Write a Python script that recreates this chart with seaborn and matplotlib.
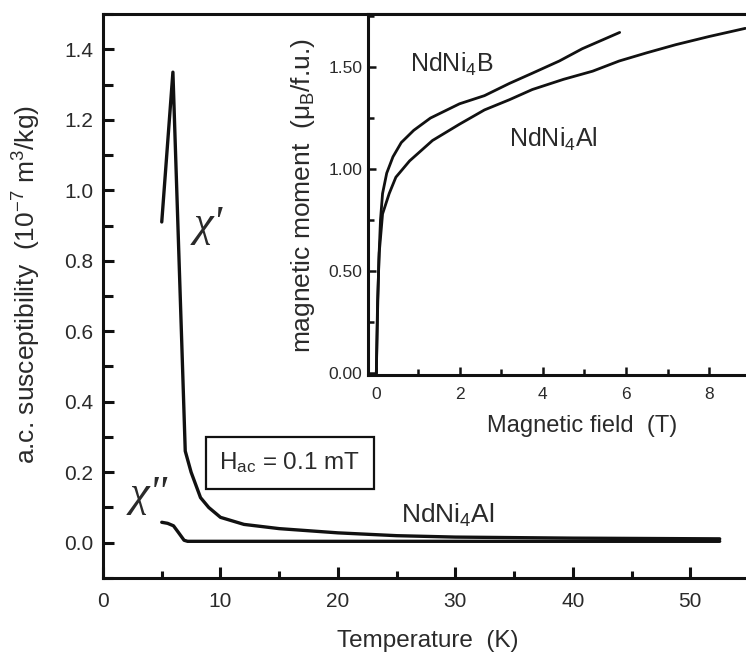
import matplotlib
matplotlib.use("Agg")
import matplotlib.pyplot as plt
from matplotlib.ticker import MultipleLocator, FormatStrFormatter
import pandas as pd
import seaborn as sns

# a.c. susceptibility of NdNi4Al, 10^-7 m^3/kg
temp_real = [5.0, 5.95, 6.7, 7.0, 7.5, 8.3, 9.0, 10.0, 12.0, 15.0, 20.0, 25.0, 30.0, 40.0, 52.5]
chi_real = [0.91, 1.335, 0.57, 0.26, 0.20, 0.128, 0.10, 0.072, 0.052, 0.040, 0.028, 0.020, 0.016, 0.013, 0.011]
temp_imag = [5.0, 5.5, 6.0, 6.4, 6.9, 7.2, 20.0, 52.5]
chi_imag = [0.058, 0.055, 0.048, 0.030, 0.007, 0.004, 0.004, 0.004]

# magnetisation curves (inset), mu_B per formula unit
field_b = [0.0, 0.03, 0.06, 0.10, 0.15, 0.25, 0.40, 0.60, 0.90, 1.30, 2.00, 2.60, 3.20, 3.75, 4.40, 4.95, 5.40, 5.85]
moment_b = [0.0, 0.30, 0.55, 0.75, 0.88, 0.98, 1.06, 1.13, 1.19, 1.25, 1.32, 1.36, 1.42, 1.47, 1.53, 1.59, 1.63, 1.67]
field_al = [0.0, 0.03, 0.07, 0.15, 0.31, 0.47, 0.80, 1.35, 2.00, 2.60, 3.20, 3.75, 4.50, 5.20, 5.84, 6.50, 7.20, 8.00, 8.87]
moment_al = [0.0, 0.35, 0.59, 0.78, 0.88, 0.96, 1.04, 1.14, 1.22, 1.29, 1.34, 1.39, 1.44, 1.48, 1.53, 1.57, 1.61, 1.65, 1.69]

sns.set_style("ticks")
SANS = ["Liberation Sans", "DejaVu Sans"]
SERIF = ["Liberation Serif", "DejaVu Serif"]
plt.rcParams["font.family"] = SANS
plt.rcParams["mathtext.default"] = "regular"
plt.rcParams["axes.linewidth"] = 2.2
INK = "#111111"
TXT = "#2a2a2a"

fig = plt.figure(figsize=(7.46, 6.55), dpi=100)

# ---- main panel: susceptibility vs temperature ----
ax = fig.add_axes([0.1381, 0.1176, 0.866, 0.861])
df_real = pd.DataFrame({"T": temp_real, "chi": chi_real})
df_imag = pd.DataFrame({"T": temp_imag, "chi": chi_imag})
sns.lineplot(data=df_real, x="T", y="chi", ax=ax, color=INK, lw=2.4,
             estimator=None, sort=False)
sns.lineplot(data=df_imag, x="T", y="chi", ax=ax, color=INK, lw=2.4,
             estimator=None, sort=False)
ax.set_xlim(0, 55)
ax.set_ylim(-0.1, 1.5)
ax.xaxis.set_major_locator(MultipleLocator(10))
ax.xaxis.set_minor_locator(MultipleLocator(5))
ax.yaxis.set_major_locator(MultipleLocator(0.2))
ax.yaxis.set_minor_locator(MultipleLocator(0.1))
ax.yaxis.set_major_formatter(FormatStrFormatter("%.1f"))
ax.tick_params(which="both", direction="in", width=2.2, colors=INK,
               labelcolor=TXT, labelsize=15, top=False, right=False)
ax.tick_params(axis="y", which="major", length=8, pad=7)
ax.tick_params(axis="y", which="minor", length=7)
ax.tick_params(axis="x", which="major", length=8, pad=10)
ax.tick_params(axis="x", which="minor", length=5)
for s in ax.spines.values():
    s.set_color(INK)

ax.set_xlabel("Temperature  (K)", fontsize=17.5, color=TXT)
ax.xaxis.label.set_va("center")
ax.xaxis.set_label_coords(0.503, -0.112)
ax.set_ylabel("a.c. susceptibility  (10$^{-7}$ m$^{3}$/kg)", fontsize=19,
              color=TXT)
ax.yaxis.label.set_va("center")
ax.yaxis.set_label_coords(-0.118, 0.52)

ax.text(7.7, 0.87, "χ'", fontsize=32, family=SERIF,
        style="italic", color=TXT, ha="left", va="baseline")
ax.text(2.3, 0.105, 'χ"', fontsize=32, family=SERIF,
        style="italic", color=TXT, ha="left", va="baseline")
ax.text(25.4, 0.057, "NdNi$_{4}$Al", fontsize=19, color=TXT, ha="left", va="baseline")
ax.text(15.9, 0.227, "H$_{ac}$ = 0.1 mT", fontsize=17.5, color=TXT, ha="center",
        va="center",
        bbox=dict(boxstyle="square,pad=0.55", fc="white", ec=INK, lw=1.6))

# ---- inset: magnetisation vs field ----
ins = fig.add_axes([0.4933, 0.4275, 0.513, 0.551])
df_b = pd.DataFrame({"H": field_b, "M": moment_b})
df_al = pd.DataFrame({"H": field_al, "M": moment_al})
sns.lineplot(data=df_b, x="H", y="M", ax=ins, color=INK, lw=2.0,
             estimator=None, sort=False)
sns.lineplot(data=df_al, x="H", y="M", ax=ins, color=INK, lw=2.0,
             estimator=None, sort=False)
ins.set_xlim(-0.2, 9.0)
ins.set_ylim(-0.01, 1.76)
ins.xaxis.set_major_locator(MultipleLocator(2))
ins.xaxis.set_minor_locator(MultipleLocator(1))
ins.yaxis.set_major_locator(MultipleLocator(0.5))
ins.yaxis.set_minor_locator(MultipleLocator(0.25))
ins.yaxis.set_major_formatter(FormatStrFormatter("%.2f"))
ins.tick_params(which="both", direction="in", width=1.8, colors=INK,
                labelcolor=TXT, labelsize=12.5, top=False, right=False)
ins.tick_params(which="major", length=6)
ins.tick_params(which="minor", length=4)
ins.tick_params(axis="x", pad=9)
ins.tick_params(axis="y", pad=4)
for s in ins.spines.values():
    s.set_color(INK)

ins.set_xlabel("Magnetic field  (T)", fontsize=17, color=TXT)
ins.xaxis.label.set_va("center")
ins.xaxis.set_label_coords(0.559, -0.141)
ins.set_ylabel("magnetic moment  (μ$_{B}$/f.u.)", fontsize=19, color=TXT)
ins.yaxis.label.set_va("center")
ins.yaxis.set_label_coords(-0.17, 0.496)

ins.text(0.8, 1.475, "NdNi$_{4}$B", fontsize=18, color=TXT, ha="left", va="baseline")
ins.text(3.2, 1.108, "NdNi$_{4}$Al", fontsize=18, color=TXT, ha="left", va="baseline")

fig.savefig("out.png", dpi=100)
